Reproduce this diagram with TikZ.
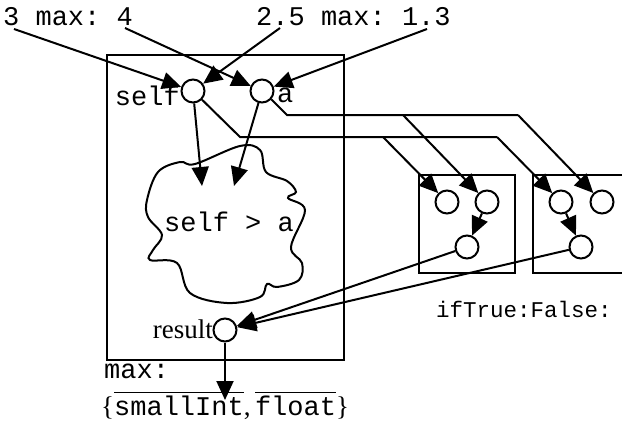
\documentclass[tikz,border=0pt]{standalone}
\usepackage{fontspec}
\setmainfont{Liberation Serif}
\setmonofont{Liberation Mono}
\usetikzlibrary{arrows.meta}
\newcommand\ovl[1]{\vbox{\hrule height 1.5pt\kern 2.2pt\hbox{#1}}}
\tikzset{
  wire/.style={line width=2pt},
  arr/.style={wire,-{Triangle[length=19pt,width=17pt]}},
  port/.style={circle,draw,line width=2pt,fill=white,minimum size=23pt,inner sep=0pt},
  frame/.style={draw,line width=2.2pt},
  mono/.style={font=\ttfamily\fontsize{27}{30}\selectfont,inner sep=0pt},
  monosm/.style={font=\ttfamily\fontsize{22.5}{26}\selectfont,inner sep=0pt},
  serif/.style={font=\rmfamily\fontsize{27}{30}\selectfont,inner sep=0pt},
}
\begin{document}
\begin{tikzpicture}[x=1pt,y=-1pt]
\useasboundingbox (0,0) rectangle (622,431);
% frames
\draw[frame] (107,55) rectangle (344,360);
\draw[frame] (419,175) rectangle (515,273);
\draw[frame] (624,175) -- (533,175) -- (533,273) -- (624,273);
% cloud
\draw[wire,fill=white] plot[smooth cycle,tension=0.6] coordinates {
 (147,200) (158,172) (180,162) (195,164) (240,146) (260,150) (266,172)
 (287,181) (296,192) (288,198) (305,210) (291,247) (302,263) (299,280)
 (277,287) (267,284) (260,297) (227,303) (190,293) (177,263) (150,260)
 (153,250) (162,235) (148,217)};
\node[mono] (cond) at (229,222) {self > a};
% labels
\node[mono,anchor=base west] (lab1) at (3,25) {3 max: 4};
\node[mono,anchor=base west] (lab2) at (256,25) {2.5 max: 1.3};
\node[mono,anchor=base east] (selflab) at (180,105) {self};
\node[mono,anchor=base west] (alab) at (277,102) {a};
\node[serif,anchor=base east] (reslab) at (213,338) {result};
\node[mono,anchor=base west] (maxlab) at (104,378) {max:};
\node[monosm,anchor=base west] (iflab) at (436,317) {ifTrue:False:};
\node[serif,anchor=base west] (types) at (101,415) {\{\ovl{\ttfamily smallInt},\,\ovl{\ttfamily float}\}};
% ports
\node[port] (self) at (193,91) {};
\node[port] (a) at (262,91) {};
\node[port] (b1l) at (447,202) {};
\node[port] (b1r) at (487,202) {};
\node[port] (b1b) at (467,247) {};
\node[port] (b2l) at (561,202) {};
\node[port] (b2r) at (602,202) {};
\node[port] (b2b) at (581,247) {};
\node[port] (res) at (225,330) {};
% coordinates
\coordinate (s3) at (14,29);
\coordinate (s4) at (125,28);
\coordinate (s25) at (280,28);
\coordinate (s13) at (427,29);
\coordinate (t1) at (202,186);
\coordinate (t2) at (234,186);
\coordinate (sw1) at (240,137);
\coordinate (sw2) at (383,137);
\coordinate (sw3) at (497,137);
\coordinate (aw1) at (287,115);
\coordinate (aw2) at (403,115);
\coordinate (aw3) at (518,115);
\coordinate (out) at (225,400);
% inputs
\draw[arr] (s3) -- (self);
\draw[arr] (s25) -- (self);
\draw[arr] (s4) -- (a);
\draw[arr] (s13) -- (a);
% into cloud
\draw[arr] (self) -- (t1);
\draw[arr] (a) -- (t2);
% wires to the blocks
\draw[wire] (self.-44) -- (sw1) -- (sw3);
\draw[arr] (sw3) -- (b2l);
\draw[arr] (sw2) -- (b1l);
\draw[wire] (a.-42) -- (aw1) -- (aw3);
\draw[arr] (aw3) -- (b2r);
\draw[arr] (aw2) -- (b1r);
% inside blocks
\draw[arr] (b1r) -- (b1b);
\draw[arr] (b2l) -- (b2b);
% to result
\draw[arr] (b1b) -- (res);
\draw[arr] (b2b) -- (res);
\draw[arr] (res) -- (out);
\end{tikzpicture}
\end{document}
